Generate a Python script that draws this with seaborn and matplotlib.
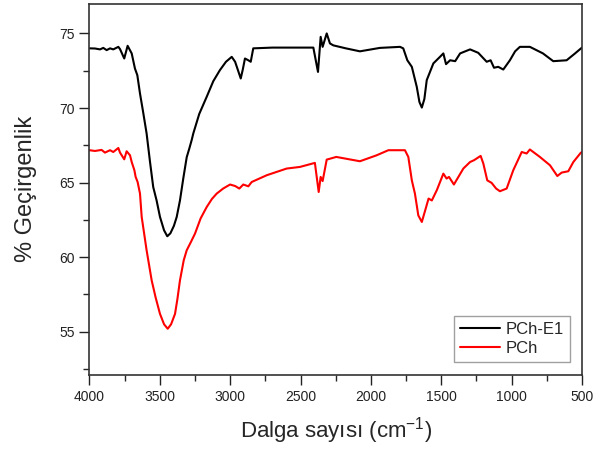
import pandas as pd
import matplotlib
matplotlib.use("Agg")
import matplotlib.pyplot as plt
import seaborn as sns
from matplotlib.ticker import MultipleLocator

# Wavenumbers (cm-1) and transmittance (%)
pch_e1_x = [4000, 3961, 3925, 3902, 3878, 3854, 3831, 3795, 3783, 3753, 3729, 3700,
            3677, 3660, 3641, 3620, 3594, 3570, 3547, 3523, 3499, 3470, 3447, 3425,
            3400, 3380, 3357, 3333, 3309, 3290, 3274, 3262, 3220, 3167, 3120, 3073,
            3030, 2989, 2965, 2940, 2925, 2910, 2895, 2871, 2854, 2836, 2700, 2550,
            2409, 2376, 2357, 2343, 2314, 2291, 2267, 2178, 2078, 1936, 1793, 1770,
            1741, 1709, 1674, 1655, 1638, 1620, 1603, 1556, 1509, 1485, 1466, 1437,
            1401, 1366, 1295, 1237, 1177, 1149, 1125, 1095, 1059, 1012, 975, 941,
            870, 777, 704, 609, 549, 500]
pch_e1_y = [74.0, 73.99, 73.93, 74.03, 73.88, 74.0, 73.93, 74.1, 73.95, 73.32, 74.17, 73.66,
            72.65, 72.2, 70.97, 69.8, 68.29, 66.4, 64.7, 63.8, 62.7, 61.8, 61.4, 61.6,
            62.1, 62.7, 63.8, 65.3, 66.7, 67.3, 67.84, 68.3, 69.6, 70.75, 71.8, 72.54,
            73.1, 73.43, 73.1, 72.4, 71.98, 72.6, 73.32, 73.2, 73.1, 74.0, 74.05, 74.05,
            74.05, 72.42, 74.77, 74.1, 75.0, 74.33, 74.2, 74.0, 73.8, 74.03, 74.1, 74.0,
            73.2, 72.76, 71.42, 70.4, 70.03, 70.6, 71.87, 72.99, 73.43, 73.66, 72.94, 73.2,
            73.14, 73.66, 73.93, 73.7, 73.1, 73.2, 72.7, 72.76, 72.58, 73.2, 73.8, 74.1,
            74.1, 73.66, 73.14, 73.2, 73.66, 74.05]

pch_x = [4000, 3961, 3914, 3890, 3854, 3831, 3795, 3783, 3753, 3736, 3712, 3700,
         3681, 3672, 3658, 3641, 3629, 3594, 3558, 3530, 3499, 3470, 3444, 3420,
         3392, 3375, 3357, 3330, 3309, 3280, 3250, 3210, 3167, 3130, 3096, 3050,
         3001, 2965, 2935, 2907, 2871, 2847, 2741, 2599, 2504, 2398, 2371, 2357,
         2343, 2314, 2291, 2246, 2078, 1959, 1876, 1758, 1734, 1709, 1687, 1663,
         1638, 1614, 1590, 1567, 1531, 1485, 1462, 1445, 1410, 1343, 1295, 1267,
         1220, 1201, 1173, 1142, 1110, 1083, 1035, 988, 928, 893, 870, 799,
         727, 675, 644, 597, 561, 509, 500]
pch_y = [67.17, 67.12, 67.19, 67.01, 67.17, 67.05, 67.32, 67.01, 66.56, 67.1, 66.83, 66.38,
         65.83, 65.38, 65.04, 64.26, 62.7, 60.46, 58.44, 57.3, 56.2, 55.5, 55.2, 55.5,
         56.2, 57.2, 58.44, 59.8, 60.46, 61.0, 61.58, 62.6, 63.36, 63.9, 64.26, 64.6,
         64.87, 64.77, 64.6, 64.87, 64.75, 65.04, 65.49, 65.94, 66.05, 66.32, 64.37, 65.38,
         65.1, 66.54, 66.6, 66.72, 66.43, 66.83, 67.17, 67.17, 66.72, 65.15, 64.26, 62.8,
         62.36, 63.14, 63.93, 63.8, 64.5, 65.6, 65.27, 65.38, 64.87, 65.94, 66.38, 66.5,
         66.79, 66.28, 65.15, 64.98, 64.6, 64.42, 64.6, 65.83, 67.05, 66.95, 67.22, 66.72,
         66.16, 65.44, 65.67, 65.76, 66.38, 66.99, 67.05]

df = pd.concat([
    pd.DataFrame({"x": pch_e1_x, "y": pch_e1_y, "sample": "PCh-E1"}),
    pd.DataFrame({"x": pch_x, "y": pch_y, "sample": "PCh"}),
])

sns.set_style("ticks")
plt.rcParams["font.family"] = ["Liberation Sans", "DejaVu Sans"]
plt.rcParams["mathtext.fontset"] = "custom"
plt.rcParams["mathtext.rm"] = "Liberation Sans"

fig = plt.figure(figsize=(6.1, 4.5), dpi=100)
ax = fig.add_axes([0.1467, 0.1667, 0.8073, 0.8253])

sns.lineplot(data=df, x="x", y="y", hue="sample", palette=["black", "red"],
             linewidth=1.5, estimator=None, sort=False, ax=ax)

ax.set_xlim(4000, 500)
ax.set_ylim(52.1, 77.0)
ax.xaxis.set_major_locator(MultipleLocator(500))
ax.xaxis.set_minor_locator(MultipleLocator(250))
ax.yaxis.set_major_locator(MultipleLocator(5))
ax.yaxis.set_minor_locator(MultipleLocator(2.5))
ax.tick_params(which="major", direction="out", length=7, width=1, labelsize=10, colors="#222222")
ax.tick_params(which="minor", direction="out", length=4, width=1)
for s in ax.spines.values():
    s.set_color("#333333")
    s.set_linewidth(1.2)

ax.set_xlabel("Dalga sayısı (cm$\\mathregular{^{-1}}$)", fontsize=16, labelpad=8)
ax.set_ylabel("% Geçirgenlik", fontsize=17, labelpad=16)

leg = ax.legend(loc="lower right", bbox_to_anchor=(0.976, 0.035), borderaxespad=0,
                fontsize=12, frameon=True, fancybox=False, handlelength=2.4,
                handletextpad=0.35, borderpad=0.35, labelspacing=0.25)
leg.get_frame().set_edgecolor("#888888")
leg.get_frame().set_linewidth(1.0)

fig.savefig("out.png", dpi=100)
